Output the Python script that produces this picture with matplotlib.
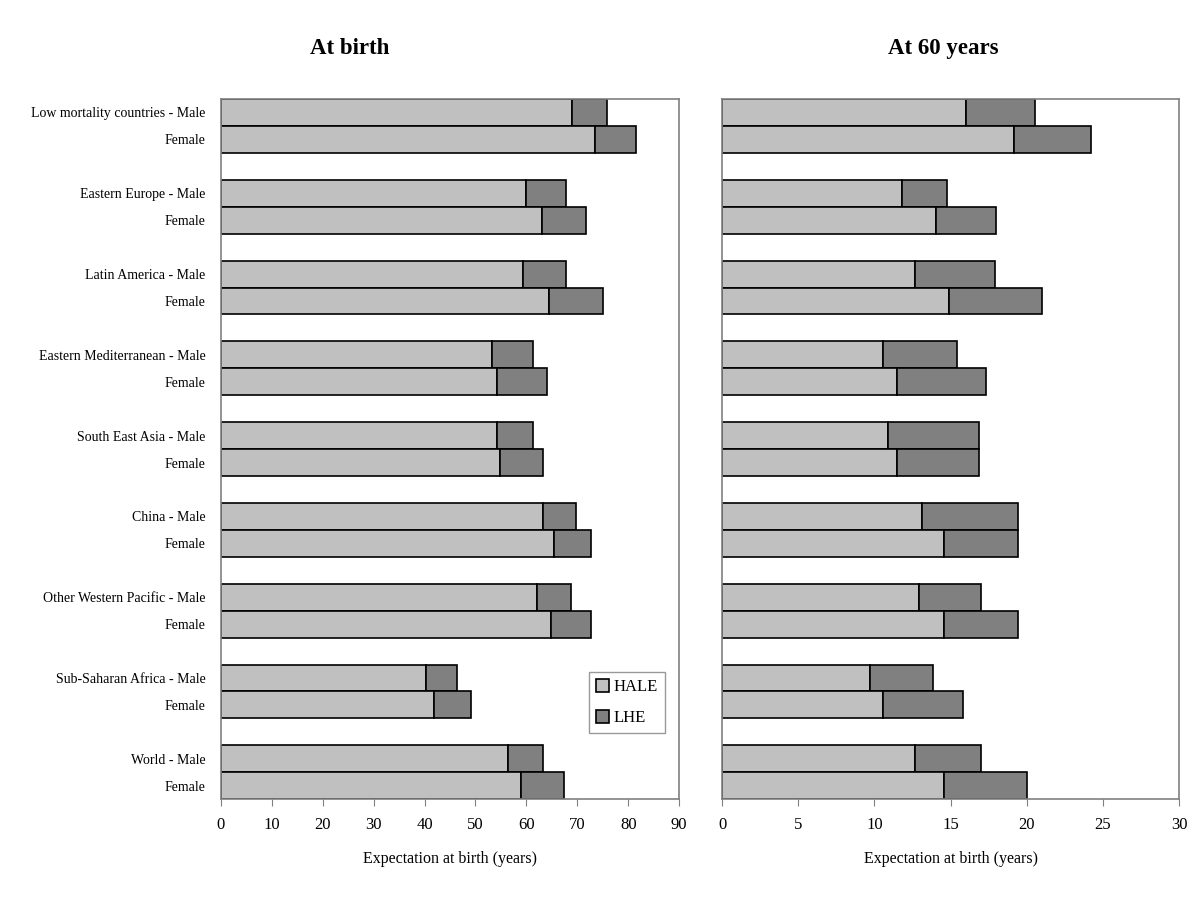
import matplotlib
matplotlib.use("Agg")
import matplotlib.pyplot as plt
import numpy as np

plt.rcParams['font.family'] = ['Liberation Serif', 'DejaVu Serif']

regions = ["Low mortality countries", "Eastern Europe", "Latin America",
           "Eastern Mediterranean", "South East Asia", "China",
           "Other Western Pacific", "Sub-Saharan Africa", "World"]

# At birth: HALE and total life expectancy (male, female)
birth_hale_m = [69.0, 59.9, 59.3, 53.3, 54.2, 63.3, 62.1, 40.3, 56.4]
birth_total_m = [75.8, 67.8, 67.8, 61.3, 61.3, 69.8, 68.8, 46.4, 63.3]
birth_hale_f = [73.5, 63.1, 64.5, 54.2, 54.8, 65.4, 64.8, 41.9, 58.9]
birth_total_f = [81.5, 71.7, 75.1, 64.1, 63.3, 72.7, 72.7, 49.1, 67.4]

# At 60 years
s60_hale_m = [16.0, 11.8, 12.7, 10.6, 10.9, 13.1, 12.9, 9.7, 12.7]
s60_total_m = [20.55, 14.8, 17.9, 15.4, 16.9, 19.4, 17.0, 13.85, 17.0]
s60_hale_f = [19.2, 14.05, 14.9, 11.5, 11.5, 14.6, 14.6, 10.6, 14.6]
s60_total_f = [24.2, 18.0, 21.0, 17.3, 16.9, 19.4, 19.4, 15.8, 20.0]

HALE_C = "#c0c0c0"
LHE_C = "#808080"
SPINE_C = "#808080"

fig = plt.figure(figsize=(12, 9), dpi=100)
ax1 = fig.add_axes([0.184, 0.112, 0.382, 0.778])
ax2 = fig.add_axes([0.6017, 0.112, 0.3808, 0.778])

n = len(regions)
male_pos = np.arange(n) * 3 + 0.5
female_pos = np.arange(n) * 3 + 1.5


def draw(ax, hm, tm, hf, tf, xmax, step):
    hm, tm, hf, tf = map(np.array, (hm, tm, hf, tf))
    kw = dict(height=1.0, edgecolor="black", linewidth=1.2)
    b1 = ax.barh(male_pos, hm, color=HALE_C, label="HALE", **kw)
    b2 = ax.barh(male_pos, tm - hm, left=hm, color=LHE_C, label="LHE", **kw)
    ax.barh(female_pos, hf, color=HALE_C, **kw)
    ax.barh(female_pos, tf - hf, left=hf, color=LHE_C, **kw)
    ax.set_ylim(3 * n - 1, 0)
    ax.set_xlim(0, xmax)
    ax.set_xticks(np.arange(0, xmax + 0.1, step))
    for s in ax.spines.values():
        s.set_color(SPINE_C)
        s.set_linewidth(1.2)
    ax.tick_params(axis='x', direction='out', length=5, color=SPINE_C,
                   labelsize=12, pad=8)
    ax.tick_params(axis='y', length=0)
    ax.set_xlabel("Expectation at birth (years)", fontsize=11.5, labelpad=13)
    return b1, b2


b1, b2 = draw(ax1, birth_hale_m, birth_total_m, birth_hale_f, birth_total_f, 90, 10)
draw(ax2, s60_hale_m, s60_total_m, s60_hale_f, s60_total_f, 30, 5)

ticks = []
labels = []
for i, r in enumerate(regions):
    ticks += [male_pos[i], female_pos[i]]
    labels += [r + " - Male", "Female"]
ax1.set_yticks(ticks)
ax1.set_yticklabels(labels, fontsize=10)
ax1.tick_params(axis='y', pad=11)
ax2.set_yticks([])

fig.text(350 / 1200, 1 - 54 / 900, "At birth", fontsize=16.5, fontweight="bold",
         ha="center", va="baseline")
fig.text(943 / 1200, 1 - 54 / 900, "At 60 years", fontsize=16.5, fontweight="bold",
         ha="center", va="baseline")

leg = ax1.legend(handles=[b1, b2], loc="upper left",
                 bbox_to_anchor=(0.803, 0.181), fontsize=12,
                 frameon=True, fancybox=False, edgecolor=SPINE_C,
                 handlelength=0.8, handleheight=0.8, handletextpad=0.3,
                 labelspacing=0.9, borderpad=0.4, borderaxespad=0)
leg.get_frame().set_linewidth(1.0)

fig.savefig("out.png", dpi=100, facecolor="white")
